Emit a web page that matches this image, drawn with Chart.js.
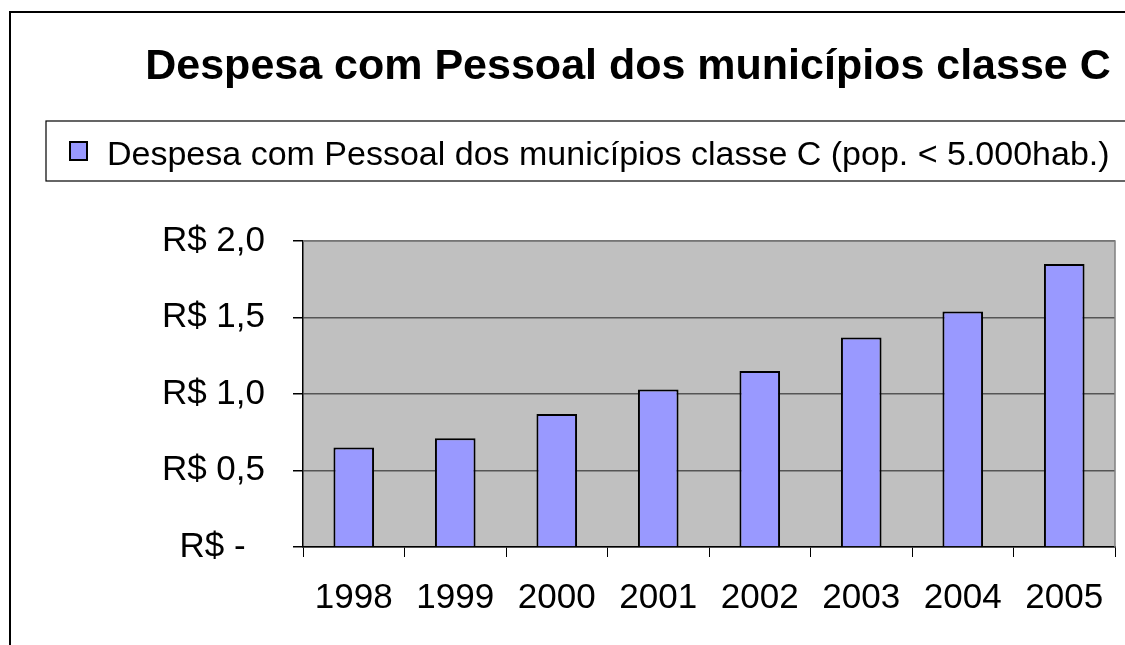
<!DOCTYPE html>
<html>
<head>
<meta charset="utf-8">
<script src="https://cdn.jsdelivr.net/npm/chart.js@4.4.0/dist/chart.umd.min.js"></script>
<style>
  body { margin: 0; background: #fff; }
  #wrap { width: 1125px; height: 645px; }
</style>
</head>
<body>
<div id="wrap"><canvas id="mycanvas" width="1125" height="645"></canvas></div>
<script>
var titulo = "Despesa com Pessoal dos municípios classe C";
var anos = ["1998", "1999", "2000", "2001", "2002", "2003", "2004", "2005"];
var despesa = [0.65, 0.71, 0.87, 1.03, 1.15, 1.37, 1.54, 1.85];
var serieNome = "Despesa com Pessoal dos municípios classe C (pop. < 5.000hab.)";

// moldura, titulo e legenda desenhados por fora da area do grafico
var moldura = {
	id: "moldura",
	beforeDraw: function(chart) {
		var c = chart.ctx;
		var a = chart.chartArea;
		c.save();
		c.fillStyle = "#C0C0C0";
		c.fillRect(a.left, a.top, a.right - a.left, a.bottom - a.top);
		c.restore();
	},
	afterDraw: function(chart) {
		var c = chart.ctx;
		var a = chart.chartArea;
		var ds = chart.data.datasets[0];
		c.save();
		// borda cinza do plot (topo e direita)
		c.strokeStyle = "#808080";
		c.lineWidth = 1.5;
		c.beginPath();
		c.moveTo(a.left, a.top);
		c.lineTo(a.right, a.top);
		c.lineTo(a.right, a.bottom);
		c.stroke();
		// moldura externa
		c.strokeStyle = "#000";
		c.lineWidth = 2;
		c.beginPath();
		c.moveTo(10, 700);
		c.lineTo(10, 12);
		c.lineTo(1200, 12);
		c.stroke();
		// titulo
		c.fillStyle = "#000";
		c.font = "bold 43px Arial, 'Liberation Sans', sans-serif";
		c.textAlign = "center";
		c.textBaseline = "alphabetic";
		c.fillText(titulo, 628, 79);
		// legenda
		c.lineWidth = 1.2;
		c.strokeRect(46, 121, 1200, 60);
		c.fillStyle = ds.backgroundColor;
		c.fillRect(70, 142, 17, 18);
		c.strokeStyle = "#000";
		c.lineWidth = 2;
		c.strokeRect(70, 142, 17, 18);
		c.fillStyle = "#000";
		c.font = "34px Arial, 'Liberation Sans', sans-serif";
		c.textAlign = "left";
		c.fillText(ds.label, 107, 165);
		c.restore();
	}
};

var chartdata = {
	labels: anos,
	datasets: [
		{
			label: serieNome,
			data: despesa,
			backgroundColor: "#9999FF",
			borderColor: "#000000",
			borderWidth: 2,
			borderSkipped: "bottom",
			categoryPercentage: 1.0,
			barPercentage: 0.4
		}
	]
};

var ctx = document.getElementById("mycanvas");

var BarGraph = new Chart(ctx, {
	type: "bar",
	data: chartdata,
	plugins: [moldura],
	options: {
		responsive: false,
		devicePixelRatio: 1,
		animation: false,
		layout: { padding: { top: 241, right: 10, bottom: 0, left: 0 } },
		plugins: {
			legend: { display: false },
			title: { display: false },
			tooltip: { enabled: false }
		},
		scales: {
			x: {
				offset: true,
				grid: {
					offset: true,
					drawOnChartArea: false,
					tickLength: 10,
					tickColor: "#000",
					lineWidth: 1
				},
				border: { color: "#000", width: 1.5 },
				ticks: {
					color: "#000",
					padding: 20,
					maxRotation: 0,
					font: { family: "Arial, 'Liberation Sans', sans-serif", size: 35 }
				},
				afterFit: function(scale) { scale.height = 98; }
			},
			y: {
				min: 0,
				max: 2,
				ticks: {
					stepSize: 0.5,
					color: "#000",
					padding: 28,
					font: { family: "Arial, 'Liberation Sans', sans-serif", size: 35 },
					callback: function(v) {
						if (v === 0) return "R$ -  ";
						return "R$ " + v.toFixed(1).replace(".", ",");
					}
				},
				grid: {
					color: "#555555",
					lineWidth: 1.5,
					tickLength: 10,
					tickColor: "#000"
				},
				border: { color: "#000", width: 1.5 },
				afterFit: function(scale) { scale.width = 303; }
			}
		}
	}
});
</script>
</body>
</html>
